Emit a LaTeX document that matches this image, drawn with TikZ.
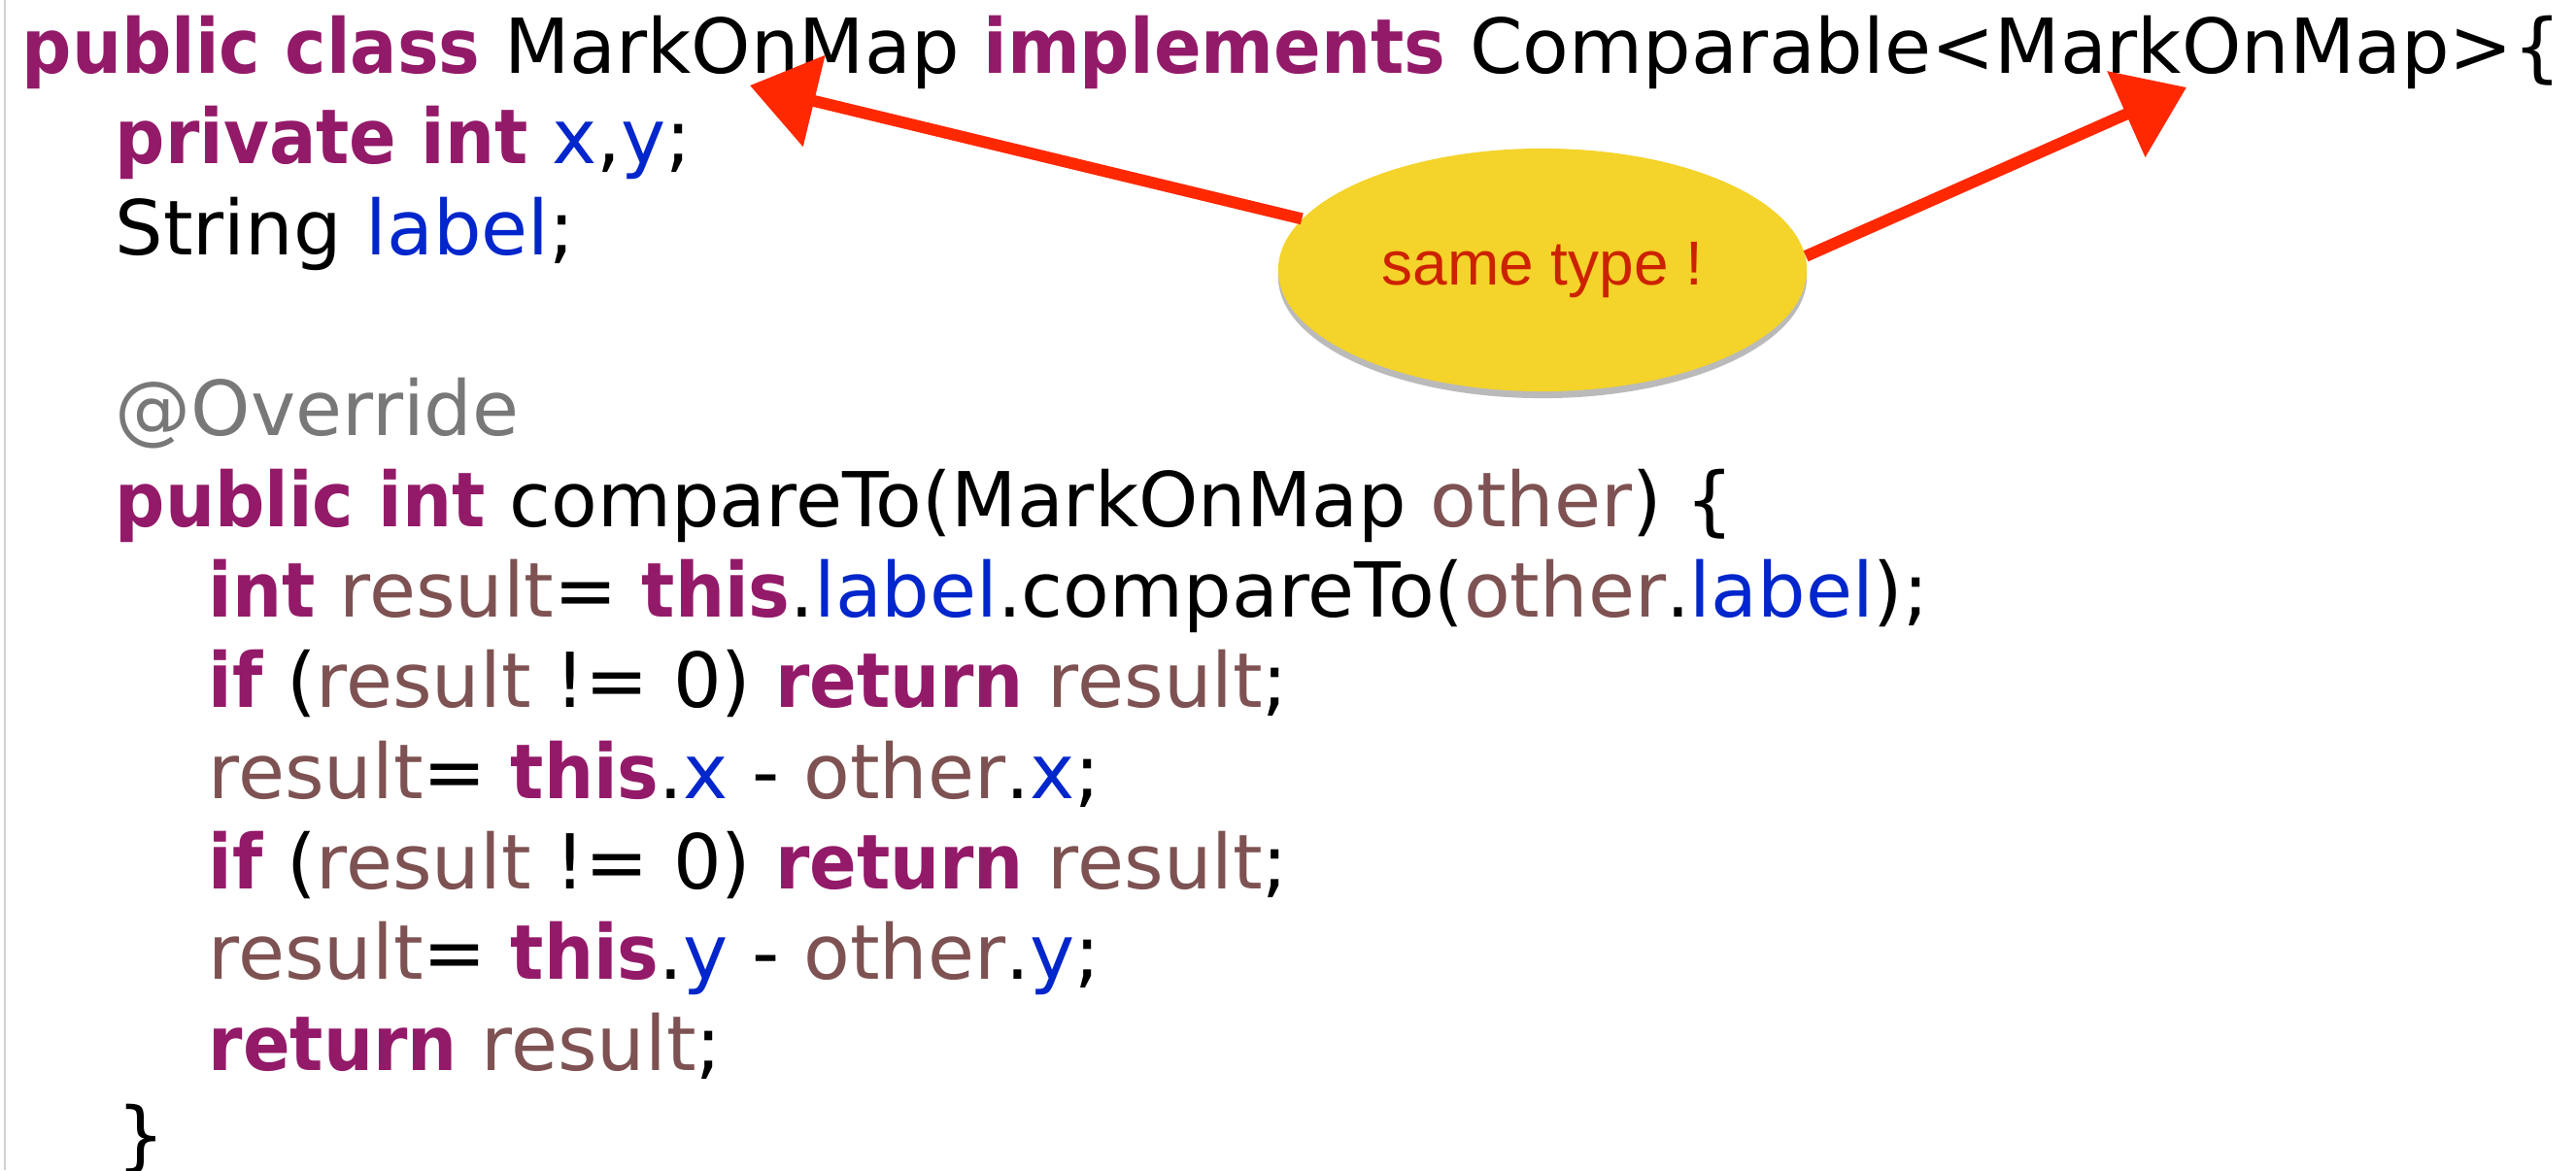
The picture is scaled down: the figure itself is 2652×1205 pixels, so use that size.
\documentclass[tikz,border=0pt]{standalone}
\usepackage{fontspec}
\usepackage{xcolor}
\usepackage{tikz}
\usetikzlibrary{shapes.geometric,arrows.meta,shadows}
\setmainfont{DejaVu Sans}[BoldFeatures={FakeStretch=0.92}]
\newfontfamily\bubblefont{Liberation Sans}
\definecolor{kwcol}{RGB}{147,26,104}
\definecolor{fieldcol}{RGB}{0,38,204}
\definecolor{varcol}{RGB}{126,82,82}
\definecolor{anncol}{RGB}{120,120,120}
\definecolor{arrowcol}{RGB}{255,40,0}
\definecolor{bubblecol}{RGB}{244,211,42}
\definecolor{bubbletext}{RGB}{204,34,0}
\newcommand{\codekw}[1]{\textcolor{kwcol}{\bfseries #1}}
\newcommand{\codefield}[1]{\textcolor{fieldcol}{#1}}
\newcommand{\codevar}[1]{\textcolor{varcol}{#1}}
\newcommand{\codeann}[1]{\textcolor{anncol}{#1}}
\tikzset{
  codeline/.style={anchor=base west, inner sep=0pt, font=\fontsize{22.2pt}{26pt}\selectfont},
  bubble/.style={ellipse, fill=bubblecol, inner sep=0pt, minimum width=5.44cm, minimum height=2.5cm,
    text=bubbletext, font=\bubblefont\fontsize{18.2pt}{20pt}\selectfont,
    drop shadow={fill=black!60, opacity=0.45, shadow xshift=0pt, shadow yshift=-0.07cm}},
  redarrow/.style={arrowcol, line width=0.12cm, -{Triangle[length=0.68cm,width=0.94cm]}}
}
\begin{document}
\begin{tikzpicture}[x=0.01cm,y=-0.01cm]
\useasboundingbox (0,0) rectangle (2652,1205);
\fill[white] (0,0) rectangle (2652,1205);
\draw[black!18, line width=0.02cm] (5,0) -- (5,1205);
%
\node[codeline] (l1) at (22,75) {\codekw{public class} MarkOnMap \codekw{implements} Comparable<MarkOnMap>\{};
\node[codeline] (l2) at (118,168) {\codekw{private int} \codefield{x},\codefield{y};};
\node[codeline] (l3) at (118,262) {String \codefield{label};};
\node[codeline] (l5) at (118,448) {\codeann{@Override}};
\node[codeline] (l6) at (118,542) {\codekw{public int} compareTo(MarkOnMap \codevar{other}) \{};
\node[codeline] (l7) at (214,635) {\codekw{int} \codevar{result}= \codekw{this}.\codefield{label}.compareTo(\codevar{other}.\codefield{label});};
\node[codeline] (l8) at (214,728) {\codekw{if} (\codevar{result} != 0) \codekw{return} \codevar{result};};
\node[codeline] (l9) at (214,822) {\codevar{result}= \codekw{this}.\codefield{x} - \codevar{other}.\codefield{x};};
\node[codeline] (l10) at (214,915) {\codekw{if} (\codevar{result} != 0) \codekw{return} \codevar{result};};
\node[codeline] (l11) at (214,1008) {\codevar{result}= \codekw{this}.\codefield{y} - \codevar{other}.\codefield{y};};
\node[codeline] (l12) at (214,1102) {\codekw{return} \codevar{result};};
\node[codeline] (l13) at (120,1196) {\}};
%
\node[bubble] (same) at (1588,278) {same type !};
\coordinate (tip1) at (772,88);
\coordinate (tip2) at (2251,90);
\draw[redarrow] (same.168) -- (tip1);
\draw[redarrow] (same.3) -- (tip2);
\end{tikzpicture}
\end{document}
